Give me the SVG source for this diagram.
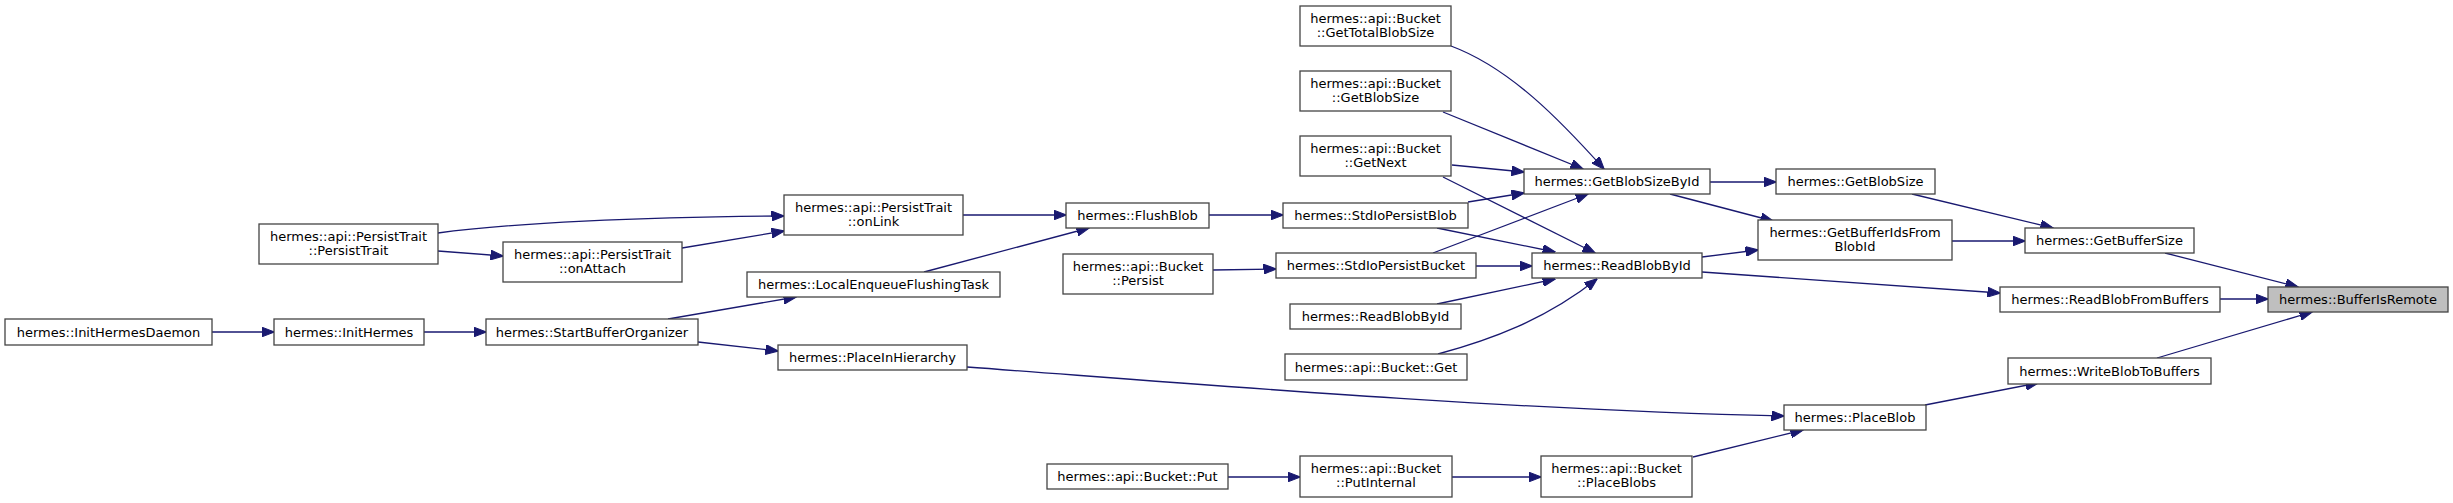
<svg xmlns="http://www.w3.org/2000/svg" width="2453" height="503" viewBox="0 0 2453 503">
<style>
.node rect{fill:#ffffff;stroke:#444444;stroke-width:1.3}
.node.root rect{fill:#bfbfbf}
.node text{font-family:"DejaVu Sans","Liberation Sans",sans-serif;font-size:13px;fill:#000000;text-anchor:middle}
.edges path{fill:none;stroke:#191970;stroke-width:1.3;marker-end:url(#arr)}
</style>
<defs>
<marker id="arr" markerUnits="userSpaceOnUse" markerWidth="13" markerHeight="10" refX="12.5" refY="5" orient="auto">
<path d="M0,0 L13,5 L0,10 z" fill="#191970" stroke="#191970" stroke-width="1"/>
</marker>
</defs>
<rect width="2453" height="503" fill="#ffffff"/>
<g class="edges">
<path d="M212,332 L274,332"/>
<path d="M424,332 L486,332"/>
<path d="M668,319 L796,297"/>
<path d="M698,342 L778,351"/>
<path d="M438,251 L503,256"/>
<path d="M438,233 C510,223 640,217 784,216"/>
<path d="M682,248 L784,231"/>
<path d="M963,215 L1066,215"/>
<path d="M924,272 L1089,228"/>
<path d="M1209,215 L1283,215"/>
<path d="M1213,270 L1276,269"/>
<path d="M1468,202 L1524,193"/>
<path d="M1437,228 L1555,252"/>
<path d="M1452,165 L1524,172"/>
<path d="M1443,177 L1595,253"/>
<path d="M1443,112 L1583,169"/>
<path d="M1451,46 C1510,68 1560,120 1604,169"/>
<path d="M1433,253 L1588,194"/>
<path d="M1476,266 L1532,266"/>
<path d="M1437,304 L1555,279"/>
<path d="M1438,354 C1490,340 1545,320 1597,279"/>
<path d="M1710,182 L1776,182"/>
<path d="M1670,194 L1773,221"/>
<path d="M1702,257 L1758,250"/>
<path d="M1702,272 L2000,293"/>
<path d="M1912,194 L2053,228"/>
<path d="M1952,241 L2025,241"/>
<path d="M2165,253 L2298,287"/>
<path d="M2220,299 L2268,299"/>
<path d="M2157,358 L2312,312"/>
<path d="M1925,405 L2038,383"/>
<path d="M967,367 C1160,381 1500,410 1784,416"/>
<path d="M1693,457 L1803,430"/>
<path d="M1452,477 L1541,477"/>
<path d="M1228,477 L1300,477"/>
</g>
<g id="n_InitHermesDaemon" class="node"><rect x="5" y="319" width="207" height="26"/><text x="108.5" y="336.5">hermes::InitHermesDaemon</text></g>
<g id="n_InitHermes" class="node"><rect x="274" y="319" width="150" height="26"/><text x="349" y="336.5">hermes::InitHermes</text></g>
<g id="n_StartBufferOrganizer" class="node"><rect x="486" y="319" width="212" height="26"/><text x="592" y="336.5">hermes::StartBufferOrganizer</text></g>
<g id="n_PersistTrait" class="node"><rect x="259" y="224" width="179" height="40"/><text x="348.5" y="240.5">hermes::api::PersistTrait</text><text x="348.5" y="255">::PersistTrait</text></g>
<g id="n_onAttach" class="node"><rect x="503" y="242" width="179" height="40"/><text x="592.5" y="258.5">hermes::api::PersistTrait</text><text x="592.5" y="273">::onAttach</text></g>
<g id="n_onLink" class="node"><rect x="784" y="195" width="179" height="40"/><text x="873.5" y="211.5">hermes::api::PersistTrait</text><text x="873.5" y="226">::onLink</text></g>
<g id="n_LocalEnqueueFlushingTask" class="node"><rect x="747" y="272" width="253" height="25"/><text x="873.5" y="289">hermes::LocalEnqueueFlushingTask</text></g>
<g id="n_PlaceInHierarchy" class="node"><rect x="778" y="345" width="189" height="25"/><text x="872.5" y="362">hermes::PlaceInHierarchy</text></g>
<g id="n_FlushBlob" class="node"><rect x="1066" y="203" width="143" height="25"/><text x="1137.5" y="220">hermes::FlushBlob</text></g>
<g id="n_BucketPersist" class="node"><rect x="1063" y="254" width="150" height="40"/><text x="1138" y="270.5">hermes::api::Bucket</text><text x="1138" y="285">::Persist</text></g>
<g id="n_BucketPut" class="node"><rect x="1047" y="464" width="181" height="25"/><text x="1137.5" y="481">hermes::api::Bucket::Put</text></g>
<g id="n_GetTotalBlobSize" class="node"><rect x="1300" y="6" width="151" height="40"/><text x="1375.5" y="22.5">hermes::api::Bucket</text><text x="1375.5" y="37">::GetTotalBlobSize</text></g>
<g id="n_BucketGetBlobSize" class="node"><rect x="1300" y="71" width="151" height="40"/><text x="1375.5" y="87.5">hermes::api::Bucket</text><text x="1375.5" y="102">::GetBlobSize</text></g>
<g id="n_GetNext" class="node"><rect x="1300" y="136" width="151" height="40"/><text x="1375.5" y="152.5">hermes::api::Bucket</text><text x="1375.5" y="167">::GetNext</text></g>
<g id="n_StdIoPersistBlob" class="node"><rect x="1283" y="203" width="185" height="25"/><text x="1375.5" y="220">hermes::StdIoPersistBlob</text></g>
<g id="n_StdIoPersistBucket" class="node"><rect x="1276" y="253" width="200" height="25"/><text x="1376" y="270">hermes::StdIoPersistBucket</text></g>
<g id="n_ReadBlobById2" class="node"><rect x="1290" y="304" width="171" height="25"/><text x="1375.5" y="321">hermes::ReadBlobById</text></g>
<g id="n_BucketGet" class="node"><rect x="1285" y="354" width="182" height="26"/><text x="1376" y="371.5">hermes::api::Bucket::Get</text></g>
<g id="n_PutInternal" class="node"><rect x="1300" y="456" width="152" height="41"/><text x="1376" y="472.5">hermes::api::Bucket</text><text x="1376" y="487">::PutInternal</text></g>
<g id="n_GetBlobSizeById" class="node"><rect x="1524" y="169" width="186" height="25"/><text x="1617" y="186">hermes::GetBlobSizeById</text></g>
<g id="n_ReadBlobById" class="node"><rect x="1532" y="253" width="170" height="25"/><text x="1617" y="270">hermes::ReadBlobById</text></g>
<g id="n_PlaceBlobs" class="node"><rect x="1541" y="456" width="151" height="41"/><text x="1616.5" y="472.5">hermes::api::Bucket</text><text x="1616.5" y="487">::PlaceBlobs</text></g>
<g id="n_GetBlobSize" class="node"><rect x="1776" y="169" width="159" height="25"/><text x="1855.5" y="186">hermes::GetBlobSize</text></g>
<g id="n_GetBufferIdsFromBlobId" class="node"><rect x="1758" y="220" width="194" height="40"/><text x="1855" y="236.5">hermes::GetBufferIdsFrom</text><text x="1855" y="251">BlobId</text></g>
<g id="n_PlaceBlob" class="node"><rect x="1784" y="405" width="142" height="25"/><text x="1855" y="422">hermes::PlaceBlob</text></g>
<g id="n_GetBufferSize" class="node"><rect x="2025" y="228" width="169" height="25"/><text x="2109.5" y="245">hermes::GetBufferSize</text></g>
<g id="n_ReadBlobFromBuffers" class="node"><rect x="2000" y="287" width="220" height="25"/><text x="2110" y="304">hermes::ReadBlobFromBuffers</text></g>
<g id="n_WriteBlobToBuffers" class="node"><rect x="2008" y="358" width="203" height="26"/><text x="2109.5" y="375.5">hermes::WriteBlobToBuffers</text></g>
<g id="n_BufferIsRemote" class="node root"><rect x="2268" y="287" width="180" height="25"/><text x="2358" y="304">hermes::BufferIsRemote</text></g>
</svg>
